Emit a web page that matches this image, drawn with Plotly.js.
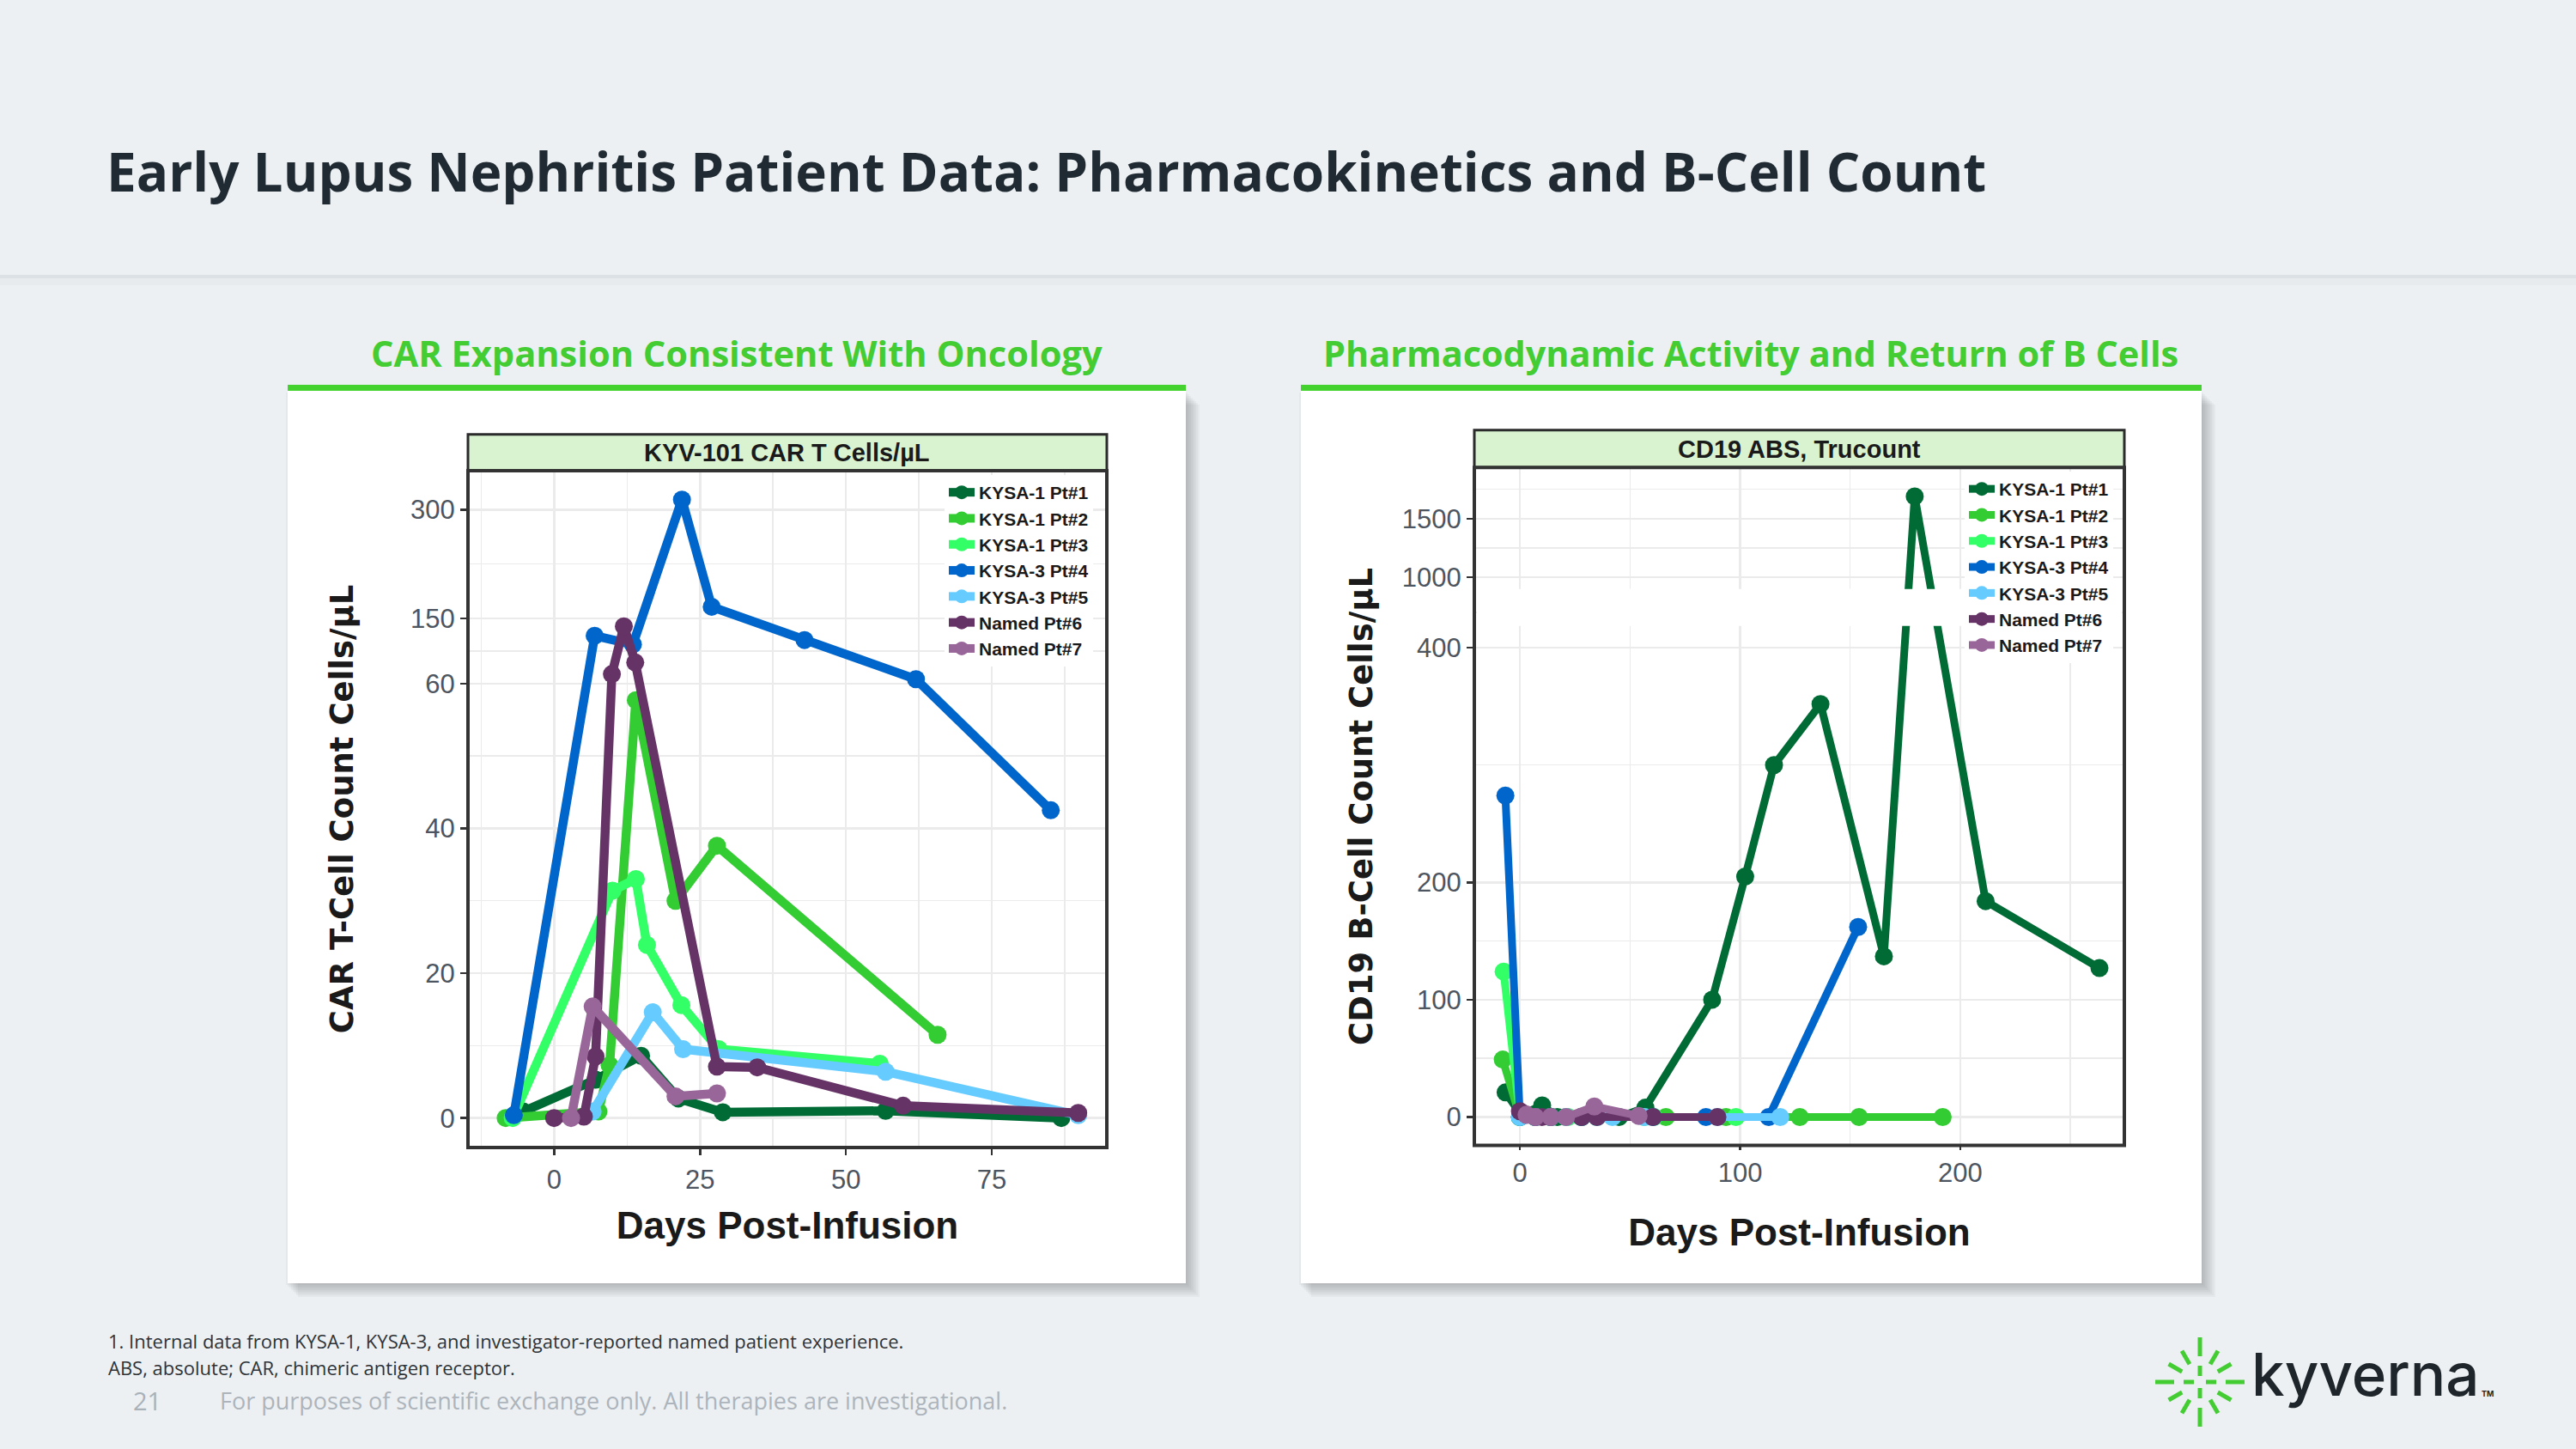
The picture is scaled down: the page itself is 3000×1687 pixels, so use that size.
<!DOCTYPE html>
<html>
<head>
<meta charset="utf-8">
<script src="https://cdn.plot.ly/plotly-3.0.1.min.js"></script>
<style>
html,body{margin:0;padding:0;background:#ECF0F3;}
#chart{width:3000px;height:1687px;}
</style>
</head>
<body>
<div id="chart"></div>
<script>
// ---------------- DATA ----------------
const seriesNames = ['KYSA-1 Pt#1','KYSA-1 Pt#2','KYSA-1 Pt#3','KYSA-3 Pt#4','KYSA-3 Pt#5','Named Pt#6','Named Pt#7'];

// Left chart: KYV-101 CAR T cells/µL vs days post-infusion
const carDays_pt1 = [-5.3, 7.1, 14.9, 21.3, 28.9, 56.8, 86.9];
const carVals_pt1 = [0.9, 5.3, 8.6, 2.7, 0.8, 1.0, 0.0];
const carDays_pt2 = [-8.3, 7.6, 9.5, 14.0, 20.8, 27.9, 65.7];
const carVals_pt2 = [0, 0.9, 7.3, 57.7, 30.0, 37.6, 11.5];
const carDays_pt3 = [-7.1, 10.0, 14.0, 15.9, 21.8, 28.2, 55.8];
const carVals_pt3 = [0, 31.4, 33.0, 23.9, 15.6, 9.5, 7.5];
const carDays_pt4 = [-6.9, 6.95, 13.5, 21.9, 27.0, 42.9, 62.0, 85.1];
const carVals_pt4 = [0.4, 126, 114, 314, 166, 120, 66, 42.5];
const carDays_pt5 = [6.6, 16.9, 22.1, 56.8, 89.8];
const carVals_pt5 = [0.9, 14.6, 9.5, 6.4, 0.4];
const carDays_pt6 = [0, 5.1, 7.1, 9.9, 11.95, 13.9, 27.9, 34.8, 59.8, 89.8];
const carVals_pt6 = [0, 0.2, 8.5, 73, 139, 89, 7.1, 7.0, 1.7, 0.7];
const carDays_pt7 = [2.9, 6.6, 20.8, 27.9];
const carVals_pt7 = [0, 15.4, 3.0, 3.4];

// Right chart: CD19 ABS (Trucount) B cells/µL vs days post-infusion
const cdDays_pt1 = [-6.5, 0.5, 10.1, 17, 28, 45, 57, 87.3, 102.3, 115.4, 136.5, 165.3, 179.3, 211.5, 263.2];
const cdVals_pt1 = [21, 2, 10, 0, 0, 0, 8, 100, 205, 300, 352, 137, 1690, 184, 127];
const cdDays_pt2 = [-7.8, 0, 7, 14, 21, 28, 66.3, 93.6, 127.1, 154, 192];
const cdVals_pt2 = [49, 0, 0, 0, 0, 0, 0, 0, 0, 0, 0];
const cdDays_pt3 = [-7.4, 0, 7, 14, 21.8, 35, 56.5, 60.8, 98.1];
const cdVals_pt3 = [124, 0, 0, 0, 0, 0, 0, 0, 0];
const cdDays_pt4 = [-6.6, 0, 7, 14, 28, 60.4, 84.5, 113, 153.6];
const cdVals_pt4 = [274, 0, 0, 0, 0, 0, 0, 0, 162];
const cdDays_pt5 = [0, 7, 14, 21, 35, 42, 56.5, 89.7, 118.2];
const cdVals_pt5 = [0, 0, 0, 0, 0, 0, 0, 0, 0];
const cdDays_pt6 = [0, 3, 7, 10, 14, 28, 35, 60.4, 89.7];
const cdVals_pt6 = [5, 2, 0, 0, 0, 0, 0, 0, 0];
const cdDays_pt7 = [3, 7, 14, 21, 33.8, 53.9];
const cdVals_pt7 = [2, 0, 0, 0, 9, 1];

// Axis ticks
const carXTicks = [0, 25, 50, 75];
const carXMinor = [-12.5, 12.5, 37.5, 62.5, 87.5];
const carYTicks = [0, 20, 40, 60, 150, 300];
const carYMinor = [10, 30, 50, 105, 225];
const cdXTicks = [0, 100, 200];
const cdXMinor = [50, 150, 250];
const cdYTicks = [0, 100, 200, 400, 1000, 1500];
const cdYMinor = [50, 150, 300, 700, 1250, 1750];

// ---------------- STYLE ----------------
const colors = ['#006B35', '#33CC33', '#33FF66', '#0066CC', '#66CCFF', '#663366', '#996699'];
const W = 3000, H = 1687;
const px = x => x / W;
const py = y => 1 - y / H;

// broken (compressed) y scales used by the original charts
const carScale = v => v <= 60 ? v : 60 + (v - 60) / 10;
const cdScale = v => v <= 400 ? v : 400 + (v - 400) / 10;

const chartFont = 'Liberation Sans, Arial, sans-serif';
const slideFont = 'Open Sans, Noto Sans, sans-serif';
const gridCol = '#EBEBEB';
const tickFont = {family: chartFont, size: 31, color: '#4D5560'};

const carDays = [carDays_pt1, carDays_pt2, carDays_pt3, carDays_pt4, carDays_pt5, carDays_pt6, carDays_pt7];
const carVals = [carVals_pt1, carVals_pt2, carVals_pt3, carVals_pt4, carVals_pt5, carVals_pt6, carVals_pt7];
const cdDays = [cdDays_pt1, cdDays_pt2, cdDays_pt3, cdDays_pt4, cdDays_pt5, cdDays_pt6, cdDays_pt7];
const cdVals = [cdVals_pt1, cdVals_pt2, cdVals_pt3, cdVals_pt4, cdVals_pt5, cdVals_pt6, cdVals_pt7];

const traces = [];
seriesNames.forEach((name, i) => {
  traces.push({
    type: 'scatter', mode: 'lines+markers', name: name,
    x: carDays[i], y: carVals[i].map(carScale),
    xaxis: 'x', yaxis: 'y', legend: 'legend', legendgroup: 'a' + i,
    line: {color: colors[i], width: 10.5},
    marker: {color: colors[i], size: 21},
    hoverinfo: 'skip'
  });
});
seriesNames.forEach((name, i) => {
  traces.push({
    type: 'scatter', mode: 'lines+markers', name: name,
    x: cdDays[i], y: cdVals[i].map(cdScale),
    xaxis: 'x2', yaxis: 'y2', legend: 'legend2', legendgroup: 'b' + i,
    line: {color: colors[i], width: 9},
    marker: {color: colors[i], size: 21},
    hoverinfo: 'skip'
  });
});

function xAxis(domain, range, ticks, minor, anchor, standoff, lblStand, tlen) {
  return {
    domain: domain, range: range, anchor: anchor,
    tickmode: 'array', tickvals: ticks, ticktext: ticks.map(String),
    minor: {tickmode: 'array', tickvals: minor, showgrid: true, gridcolor: gridCol, gridwidth: 1.5, ticks: ''},
    showgrid: true, gridcolor: gridCol, gridwidth: 2.5, zeroline: false, showline: false,
    ticks: 'outside', ticklen: tlen, tickwidth: 2.5, tickcolor: '#333333',
    ticklabelstandoff: lblStand,
    tickfont: tickFont,
    title: {text: 'Days Post-Infusion', standoff: standoff,
            font: {family: chartFont, size: 44, weight: 'bold', color: '#1A1A1A'}},
    fixedrange: true
  };
}
function yAxis(domain, range, ticks, minor, scale, anchor, title, standoff) {
  return {
    domain: domain, range: range, anchor: anchor,
    tickmode: 'array', tickvals: ticks.map(scale), ticktext: ticks.map(String),
    minor: {tickmode: 'array', tickvals: minor.map(scale), showgrid: true, gridcolor: gridCol, gridwidth: 1.5, ticks: ''},
    showgrid: true, gridcolor: gridCol, gridwidth: 2.5, zeroline: false, showline: false,
    ticks: 'outside', ticklen: 8, tickwidth: 2.5, tickcolor: '#333333',
    tickfont: tickFont,
    title: {text: title, standoff: standoff,
            font: {family: 'DejaVu Sans, Verdana, sans-serif', size: 37, weight: 'bold', color: '#1A1A1A'}},
    fixedrange: true
  };
}

// ---------------- DECORATION ----------------
const shapes = [];
// header separator
shapes.push({type: 'rect', xref: 'paper', yref: 'paper', x0: 0, x1: 1, y0: py(324), y1: py(320), fillcolor: '#DCE1E5', line: {width: 0}, layer: 'below'});
shapes.push({type: 'rect', xref: 'paper', yref: 'paper', x0: 0, x1: 1, y0: py(332), y1: py(324), fillcolor: 'rgba(0,0,0,0.018)', line: {width: 0}, layer: 'below'});

const panels = [{x0: 335, x1: 1381}, {x0: 1515, x1: 2564}];
panels.forEach(p => {
  for (let k = 8; k >= 1; k--) {
    const o = k * 2;
    shapes.push({type: 'rect', xref: 'paper', yref: 'paper', x0: px(p.x0 + o - 4), x1: px(p.x1 + o), y0: py(1494 + o), y1: py(455 + o),
                 fillcolor: 'rgba(60,65,70,0.045)', line: {width: 0}, layer: 'below'});
  }
  shapes.push({type: 'rect', xref: 'paper', yref: 'paper', x0: px(p.x0), x1: px(p.x1), y0: py(1494), y1: py(455),
               fillcolor: '#FFFFFF', line: {width: 0}, layer: 'below'});
  shapes.push({type: 'rect', xref: 'paper', yref: 'paper', x0: px(p.x0), x1: px(p.x1), y0: py(455), y1: py(448),
               fillcolor: '#44D22E', line: {width: 0}, layer: 'below'});
});

// strips above the plot areas
const strips = [{x0: 545, x1: 1289, y0: 505.7, y1: 547.9}, {x0: 1717, x1: 2474, y0: 500.7, y1: 544.3}];
strips.forEach(s => {
  shapes.push({type: 'rect', xref: 'paper', yref: 'paper', x0: px(s.x0), x1: px(s.x1), y0: py(s.y1), y1: py(s.y0),
               fillcolor: '#D9F3D1', line: {color: '#2B2B2B', width: 3}, layer: 'below'});
});

// axis break band on the B-cell chart
shapes.push({type: 'rect', xref: 'x2 domain', yref: 'y2', x0: 0.004, x1: 0.996, y0: cdScale(586), y1: cdScale(900),
             fillcolor: '#FFFFFF', line: {width: 0}, layer: 'above'});
// plot borders
shapes.push({type: 'rect', xref: 'x domain', yref: 'y domain', x0: 0, x1: 1, y0: 0, y1: 1, line: {color: '#333333', width: 4}, layer: 'above'});
shapes.push({type: 'rect', xref: 'x2 domain', yref: 'y2 domain', x0: 0, x1: 1, y0: 0, y1: 1, line: {color: '#333333', width: 4}, layer: 'above'});

// kyverna starburst logo
const burst = {cx: 2562, cy: 1609};
for (let k = 0; k < 12; k++) {
  const a = k * Math.PI / 6;
  const segs = (k % 3 === 0) ? [[7, 19], [30, 52]] : [[24, 42]];
  segs.forEach(sg => {
    shapes.push({type: 'line', xref: 'paper', yref: 'paper',
      x0: px(burst.cx + sg[0] * Math.cos(a)), y0: py(burst.cy - sg[0] * Math.sin(a)),
      x1: px(burst.cx + sg[1] * Math.cos(a)), y1: py(burst.cy - sg[1] * Math.sin(a)),
      line: {color: '#44CC33', width: 5}, layer: 'above'});
  });
}

const annotations = [
  {text: 'CAR Expansion Consistent With Oncology', x: px(858), y: py(411), xref: 'paper', yref: 'paper', showarrow: false,
   xanchor: 'center', yanchor: 'middle', font: {family: slideFont, size: 41.6, weight: 700, color: '#44CC33'}},
  {text: 'Pharmacodynamic Activity and Return of B Cells', x: px(2039), y: py(411), xref: 'paper', yref: 'paper', showarrow: false,
   xanchor: 'center', yanchor: 'middle', font: {family: slideFont, size: 41.4, weight: 700, color: '#44CC33'}},
  {text: 'KYV-101 CAR T Cells/µL', x: px(917), y: py(527), xref: 'paper', yref: 'paper', showarrow: false,
   xanchor: 'center', yanchor: 'middle', font: {family: chartFont, size: 29, weight: 'bold', color: '#1A1A1A'}},
  {text: 'CD19 ABS, Trucount', x: px(2095.5), y: py(522.5), xref: 'paper', yref: 'paper', showarrow: false,
   xanchor: 'center', yanchor: 'middle', font: {family: chartFont, size: 29, weight: 'bold', color: '#1A1A1A'}},
  {text: '1. Internal data from KYSA-1, KYSA-3, and investigator-reported named patient experience.', x: px(124), y: py(1561), xref: 'paper', yref: 'paper', showarrow: false,
   xanchor: 'left', yanchor: 'middle', font: {family: slideFont, size: 22, color: '#2E3338'}},
  {text: 'ABS, absolute; CAR, chimeric antigen receptor.', x: px(124), y: py(1592), xref: 'paper', yref: 'paper', showarrow: false,
   xanchor: 'left', yanchor: 'middle', font: {family: slideFont, size: 22, color: '#2E3338'}},
  {text: '21', x: px(153), y: py(1630), xref: 'paper', yref: 'paper', showarrow: false,
   xanchor: 'left', yanchor: 'middle', font: {family: slideFont, size: 29, color: '#A9B1B9'}},
  {text: 'For purposes of scientific exchange only. All therapies are investigational.', x: px(254), y: py(1630), xref: 'paper', yref: 'paper', showarrow: false,
   xanchor: 'left', yanchor: 'middle', font: {family: slideFont, size: 27, color: '#ADB4BB'}},
  {text: 'kyverna', x: px(2620), y: py(1600), xref: 'paper', yref: 'paper', showarrow: false,
   xanchor: 'left', yanchor: 'middle', font: {family: 'Inter, Lato, sans-serif', size: 69, weight: 500, color: '#1F262B'}},
  {text: 'TM', x: px(2888), y: py(1622), xref: 'paper', yref: 'paper', showarrow: false,
   xanchor: 'left', yanchor: 'middle', font: {family: 'Inter, sans-serif', size: 9, weight: 700, color: '#1F262B'}}
];

const legendBase = {
  bgcolor: '#FFFFFF', borderwidth: 0, xanchor: 'left', yanchor: 'top', xref: 'paper', yref: 'paper',
  font: {family: chartFont, size: 21, weight: 'bold', color: '#1A1A1A'},
  itemwidth: 30, tracegroupgap: 2, traceorder: 'normal'
};

const layout = {
  width: W, height: H, margin: {l: 0, r: 0, t: 0, b: 0},
  paper_bgcolor: '#ECF0F3', plot_bgcolor: '#FFFFFF',
  hovermode: false, showlegend: true,
  title: {text: 'Early Lupus Nephritis Patient Data: Pharmacokinetics and B-Cell Count',
          x: px(124), xanchor: 'left', y: py(201), yanchor: 'middle', xref: 'paper', yref: 'paper',
          font: {family: slideFont, size: 62, weight: 700, color: '#1F2A33'}},
  xaxis: xAxis([px(545), px(1289)], [-14.76, 94.7], carXTicks, carXMinor, 'y', 20, 2, 8),
  yaxis: yAxis([py(1336), py(547.9)], [-4.07, 89.4], carYTicks, carYMinor, carScale, 'x', 'CAR T-Cell Count Cells/µL', 55),
  xaxis2: xAxis([px(1717), px(2474)], [-20.7, 274.5], cdXTicks, cdXMinor, 'y2', 37, 0, 4),
  yaxis2: yAxis([py(1333.6), py(544.3)], [-24.2, 553.6], cdYTicks, cdYMinor, cdScale, 'x2', 'CD19 B-Cell Count Cells/µL', 22),
  legend: Object.assign({}, legendBase, {x: px(1100), y: py(553)}),
  legend2: Object.assign({}, legendBase, {x: px(2288), y: py(549)}),
  shapes: shapes,
  annotations: annotations
};

Plotly.newPlot('chart', traces, layout, {staticPlot: true, displayModeBar: false});
</script>
</body>
</html>
